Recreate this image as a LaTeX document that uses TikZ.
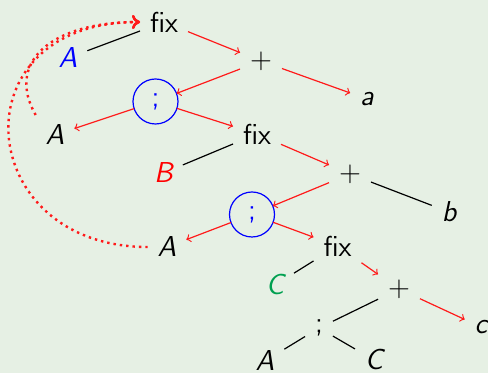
\documentclass[tikz,border=0pt]{standalone}
\usepackage{fontspec}
\usetikzlibrary{arrows.meta}
\definecolor{bgcol}{HTML}{E6F0E4}
\definecolor{cgreen}{HTML}{00A050}
\definecolor{rcol}{HTML}{FF1A1A}
\begin{document}
\begin{tikzpicture}[x=0.5pt,y=-0.5pt,
  every node/.style={font=\sffamily\fontsize{14.4}{17}\selectfont},
  tn/.style={inner sep=5pt,outer sep=0pt},
  semi/.style={circle,draw=blue,text=blue,line width=0.6pt,minimum size=22.5pt,inner sep=0pt,outer sep=0pt},
  bl/.style={draw=black,line width=0.6pt},
  ra/.style={draw=rcol,line width=0.6pt,-{to}},
  dots/.style={draw=rcol,line width=1.2pt,dotted,-{To[length=4pt,width=7pt]}}]
\fill[bgcol] (0,0) rectangle (488,373);
\useasboundingbox (0,0) rectangle (488,373);
\node[tn] (fixa) at (164,22) {fix};
\node[tn,text=blue] (Aa) at (68,58) {\itshape A};
\node[tn] (pa) at (261,61) {+};
\node[tn] (a) at (367,99) {\itshape a};
\node[semi] (sa) at (155.5,101.5) {;};
\node[tn] (Ab) at (55,135) {\itshape A};
\node[tn] (fixb) at (257,134) {fix};
\node[tn,text=red] (B) at (163.5,173) {\itshape B};
\node[tn] (pb) at (350,174) {+};
\node[tn] (b) at (449,212) {\itshape b};
\node[semi] (sb) at (252,214.5) {;};
\node[tn] (Ac) at (167,247) {\itshape A};
\node[tn] (fixc) at (337.5,246) {fix};
\node[tn,text=cgreen] (C) at (275,285) {\itshape C};
\node[tn] (pc) at (399,289) {+};
\node[tn] (c) at (481,327) {\itshape c};
\node[tn] (sc) at (319,328) {;};
\node[tn] (Ad) at (265,361) {\itshape A};
\node[tn] (Cd) at (374,360) {\itshape C};
% edges
\draw[bl] (fixa) -- (Aa);
\draw[ra] (fixa) -- (pa);
\draw[ra] (pa) -- (sa);
\draw[ra] (pa) -- (a);
\draw[ra] (sa) -- (Ab);
\draw[ra] (sa) -- (fixb);
\draw[bl] (fixb) -- (B);
\draw[ra] (fixb) -- (pb);
\draw[ra] (pb) -- (sb);
\draw[bl] (pb) -- (b);
\draw[ra] (sb) -- (Ac);
\draw[ra] (sb) -- (fixc);
\draw[bl] (fixc) -- (C);
\draw[ra] (fixc) -- (pc);
\draw[bl] (pc) -- (sc);
\draw[ra] (pc) -- (c);
\draw[bl] (sc) -- (Ad);
\draw[bl] (sc) -- (Cd);
% dotted back arrows
\draw[dots] (Ab.north west) .. controls +(-120:60) and +(180:90) .. (fixa.west);
\draw[dots] (Ac.west) .. controls +(180:175) and +(180:185) .. (fixa.west);
\end{tikzpicture}
\end{document}
